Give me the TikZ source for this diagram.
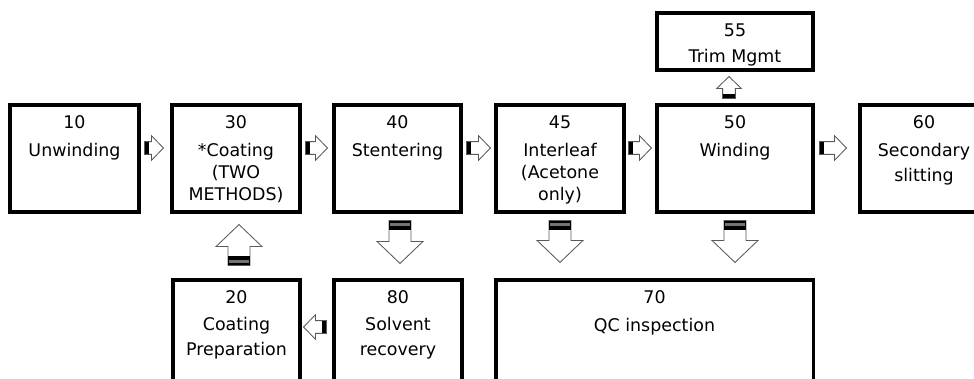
\documentclass[tikz,border=0pt]{standalone}
\usepackage{fontspec}
\setmainfont{DejaVu Sans}
\usetikzlibrary{calc}

\tikzset{
  stage/.style={draw, line width=2.2pt, minimum width=3.2cm,
    minimum height=2.675cm, inner sep=0pt},
  stagetext/.style={anchor=north, align=center, inner sep=0pt,
    yshift=-0.3cm, font=\fontsize{12.4}{17.8}\selectfont},
  arrowbody/.style={draw=black!65, fill=white, line width=0.6pt,
    line join=miter},
  arrowband/.style={fill=black},
}

% block arrow: tail, tip, half shaft, half head, head length, band
\newcommand{\flowarrow}[6]{%
  \path (#1) coordinate (fa-t) (#2) coordinate (fa-p);
  \coordinate (fa-h) at ($(fa-p)!#5!(fa-t)$);
  \coordinate (fa-b) at ($(fa-t)!#6!(fa-p)$);
  \filldraw[arrowbody] ($(fa-t)!#3!90:(fa-p)$) -- ($(fa-h)!#3!90:(fa-p)$)
    -- ($(fa-h)!#4!90:(fa-p)$) -- (fa-p) -- ($(fa-h)!#4!-90:(fa-p)$)
    -- ($(fa-h)!#3!-90:(fa-p)$) -- ($(fa-t)!#3!-90:(fa-p)$) -- cycle;
  \fill[arrowband] ($(fa-t)!#3!90:(fa-p)$) -- ($(fa-b)!#3!90:(fa-p)$)
    -- ($(fa-b)!#3!-90:(fa-p)$) -- ($(fa-t)!#3!-90:(fa-p)$) -- cycle;
}
\newcommand{\smallflow}[2]{\flowarrow{#1}{#2}{0.16cm}{0.31cm}{0.3cm}{0.1cm}}
\newcommand{\bigflow}[2]{%
  \flowarrow{#1}{#2}{0.275cm}{0.575cm}{0.55cm}{0.225cm}
  \coordinate (fa-g1) at ($(fa-t)!0.065cm!(fa-p)$);
  \coordinate (fa-g2) at ($(fa-t)!0.14cm!(fa-p)$);
  \fill[black!55] ($(fa-g1)!0.25cm!90:(fa-p)$) -- ($(fa-g2)!0.25cm!90:(fa-p)$)
    -- ($(fa-g2)!0.25cm!-90:(fa-p)$) -- ($(fa-g1)!0.25cm!-90:(fa-p)$) -- cycle;
}

\begin{document}
\begin{tikzpicture}[x=0.025cm, y=-0.025cm]
  \useasboundingbox (0,0) rectangle (974,379);
  \clip (0,0) rectangle (974,379);

  % ── Main line ─────────────────────────────────────────────
  \node[stage, minimum width=3.225cm,
    label={[stagetext]north:{10\\[0.08cm]Unwinding}}] (u10) at (74.5,158.5) {};
  \node[stage,
    label={[stagetext]north:{30\\[0.08cm]*Coating\\[-0.075cm](TWO\\[-0.075cm]METHODS)}}]
    (c30) at (236,158.5) {};
  \node[stage, minimum width=3.175cm,
    label={[stagetext]north:{40\\[0.08cm]Stentering}}] (s40) at (397.5,158.5) {};
  \node[stage,
    label={[stagetext]north:{45\\[0.08cm]Interleaf\\[-0.075cm](Acetone\\[-0.075cm]only)}}]
    (i45) at (560,158.5) {};
  \node[stage, minimum width=3.9cm,
    label={[stagetext]north:{50\\[0.08cm]Winding}}] (w50) at (735,158.5) {};
  \node[stage,
    label={[stagetext]north:{60\\[0.08cm]Secondary\\slitting}}] (s60) at (924,158.5) {};

  % ── Side stages ───────────────────────────────────────────
  \node[stage, minimum width=3.9cm, minimum height=1.425cm,
    label={[stagetext]north:{55\\[0.03cm]Trim Mgmt}}] (t55) at (735,41.5) {};
  \node[stage, minimum width=3.175cm,
    label={[stagetext]north:{20\\[0.05cm]Coating\\Preparation}}] (p20) at (236.5,333.5) {};
  \node[stage,
    label={[stagetext]north:{80\\[0.05cm]Solvent\\recovery}}] (r80) at (398,333.5) {};
  \node[stage, minimum width=7.925cm,
    label={[stagetext]north:{70\\[0.08cm]QC inspection}}] (q70) at (654.5,333.5) {};

  % ── Flow arrows ───────────────────────────────────────────
  \smallflow{$(u10.east)+(4,-10.5)$}{$(c30.west)+(-7,-10.5)$}
  \smallflow{$(c30.east)+(4,-10.5)$}{$(s40.west)+(-5,-10.5)$}
  \smallflow{$(s40.east)+(4,-10.5)$}{$(i45.west)+(-4,-10.5)$}
  \smallflow{$(i45.east)+(3,-10.5)$}{$(w50.west)+(-4,-10.5)$}
  \smallflow{$(w50.east)+(5,-10.5)$}{$(s60.west)+(-12,-10.5)$}
  \smallflow{$(w50.north)+(-6,-5)$}{$(t55.south)+(-6,5)$}
  \smallflow{$(r80.west)+(-6,-6.5)$}{$(p20.east)+(2,-6.5)$}
  % wide arrows between rows
  \bigflow{$(s40.south)+(2.5,7)$}{$(r80.north)+(2,-15)$}
  \bigflow{$(i45.south)+(0,7)$}{$(i45.south |- q70.north)+(0,-16)$}
  \bigflow{$(w50.south)+(0,7)$}{$(w50.south |- q70.north)+(0,-16)$}
  \bigflow{$(p20.north)+(2.5,-13)$}{$(c30.south)+(3,11)$}
\end{tikzpicture}
\end{document}
